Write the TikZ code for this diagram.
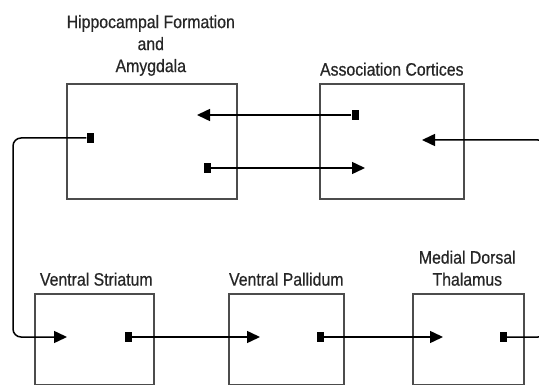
\documentclass[tikz,border=0pt]{standalone}
\usepackage{fontspec}
\setmainfont{Liberation Sans}[FakeStretch=0.88,FakeBold=0.6]
\usetikzlibrary{arrows.meta,positioning}

\tikzset{
  region/.style={draw=black!70,line width=1.6pt,anchor=north west,inner sep=0pt},
  caption/.style={align=center,inner sep=0pt,text=black!85,font=\fontsize{18}{22}\selectfont},
  port/.style={fill=black,minimum width=7pt,minimum height=10pt,inner sep=0pt},
  flow/.style={line width=1.5pt,-{Triangle[length=13pt,width=12pt]},rounded corners=8pt}
}

\begin{document}
\begin{tikzpicture}[x=1pt,y=-1pt]
    \useasboundingbox (0,0) rectangle (539,385);
    % Boxes
    \node[region,minimum width=170pt,minimum height=115pt] (hippo) at (66,83) {};
    \node[region,minimum width=144pt,minimum height=115pt] (assoc) at (319,83) {};
    \node[region,minimum width=119pt,minimum height=91pt] (striatum) at (34,293) {};
    \node[region,minimum width=115pt,minimum height=91pt] (pallidum) at (228,293) {};
    \node[region,minimum width=111pt,minimum height=91pt] (thalamus) at (412,293) {};
    % Box titles
    \node[caption,above=7pt of hippo.north,xshift=-1pt] (hippoT) {Hippocampal Formation\\and\\Amygdala};
    \node[caption,above=7pt of assoc.north] (assocT) {Association Cortices};
    \node[caption,above=7pt of striatum.north,xshift=2pt] (striatumT) {Ventral Striatum};
    \node[caption,above=7pt of pallidum.north] (pallidumT) {Ventral Pallidum};
    \node[caption,above=7pt of thalamus.north,xshift=-1pt] (thalamusT) {Medial Dorsal\\Thalamus};
    % Origins of the projections
    \node[port] (assocOut) at (355,115) {};
    \node[port] (hippoOut) at (207,168) {};
    \node[port] (hippoDown) at (90,138) {};
    \node[port] (striatumOut) at (128,337) {};
    \node[port] (pallidumOut) at (320,337) {};
    \node[port] (thalamusOut) at (503,337) {};
    % Targets
    \coordinate (hippoIn) at (197,115);
    \coordinate (assocIn) at (365,168);
    \coordinate (assocBack) at (422,140);
    \coordinate (striatumIn) at (67,337);
    \coordinate (pallidumIn) at (260,337);
    \coordinate (thalamusIn) at (443,337);
    % Projections
    \draw[flow] (assocOut) -- (hippoIn);
    \draw[flow] (hippoOut) -- (assocIn);
    \draw[flow] (hippoDown) -| (13,337) -- (striatumIn);
    \draw[flow] (striatumOut) -- (pallidumIn);
    \draw[flow] (pallidumOut) -- (thalamusIn);
    \draw[flow] (thalamusOut) -| (546,140) -- (assocBack);
\end{tikzpicture}
\end{document}
